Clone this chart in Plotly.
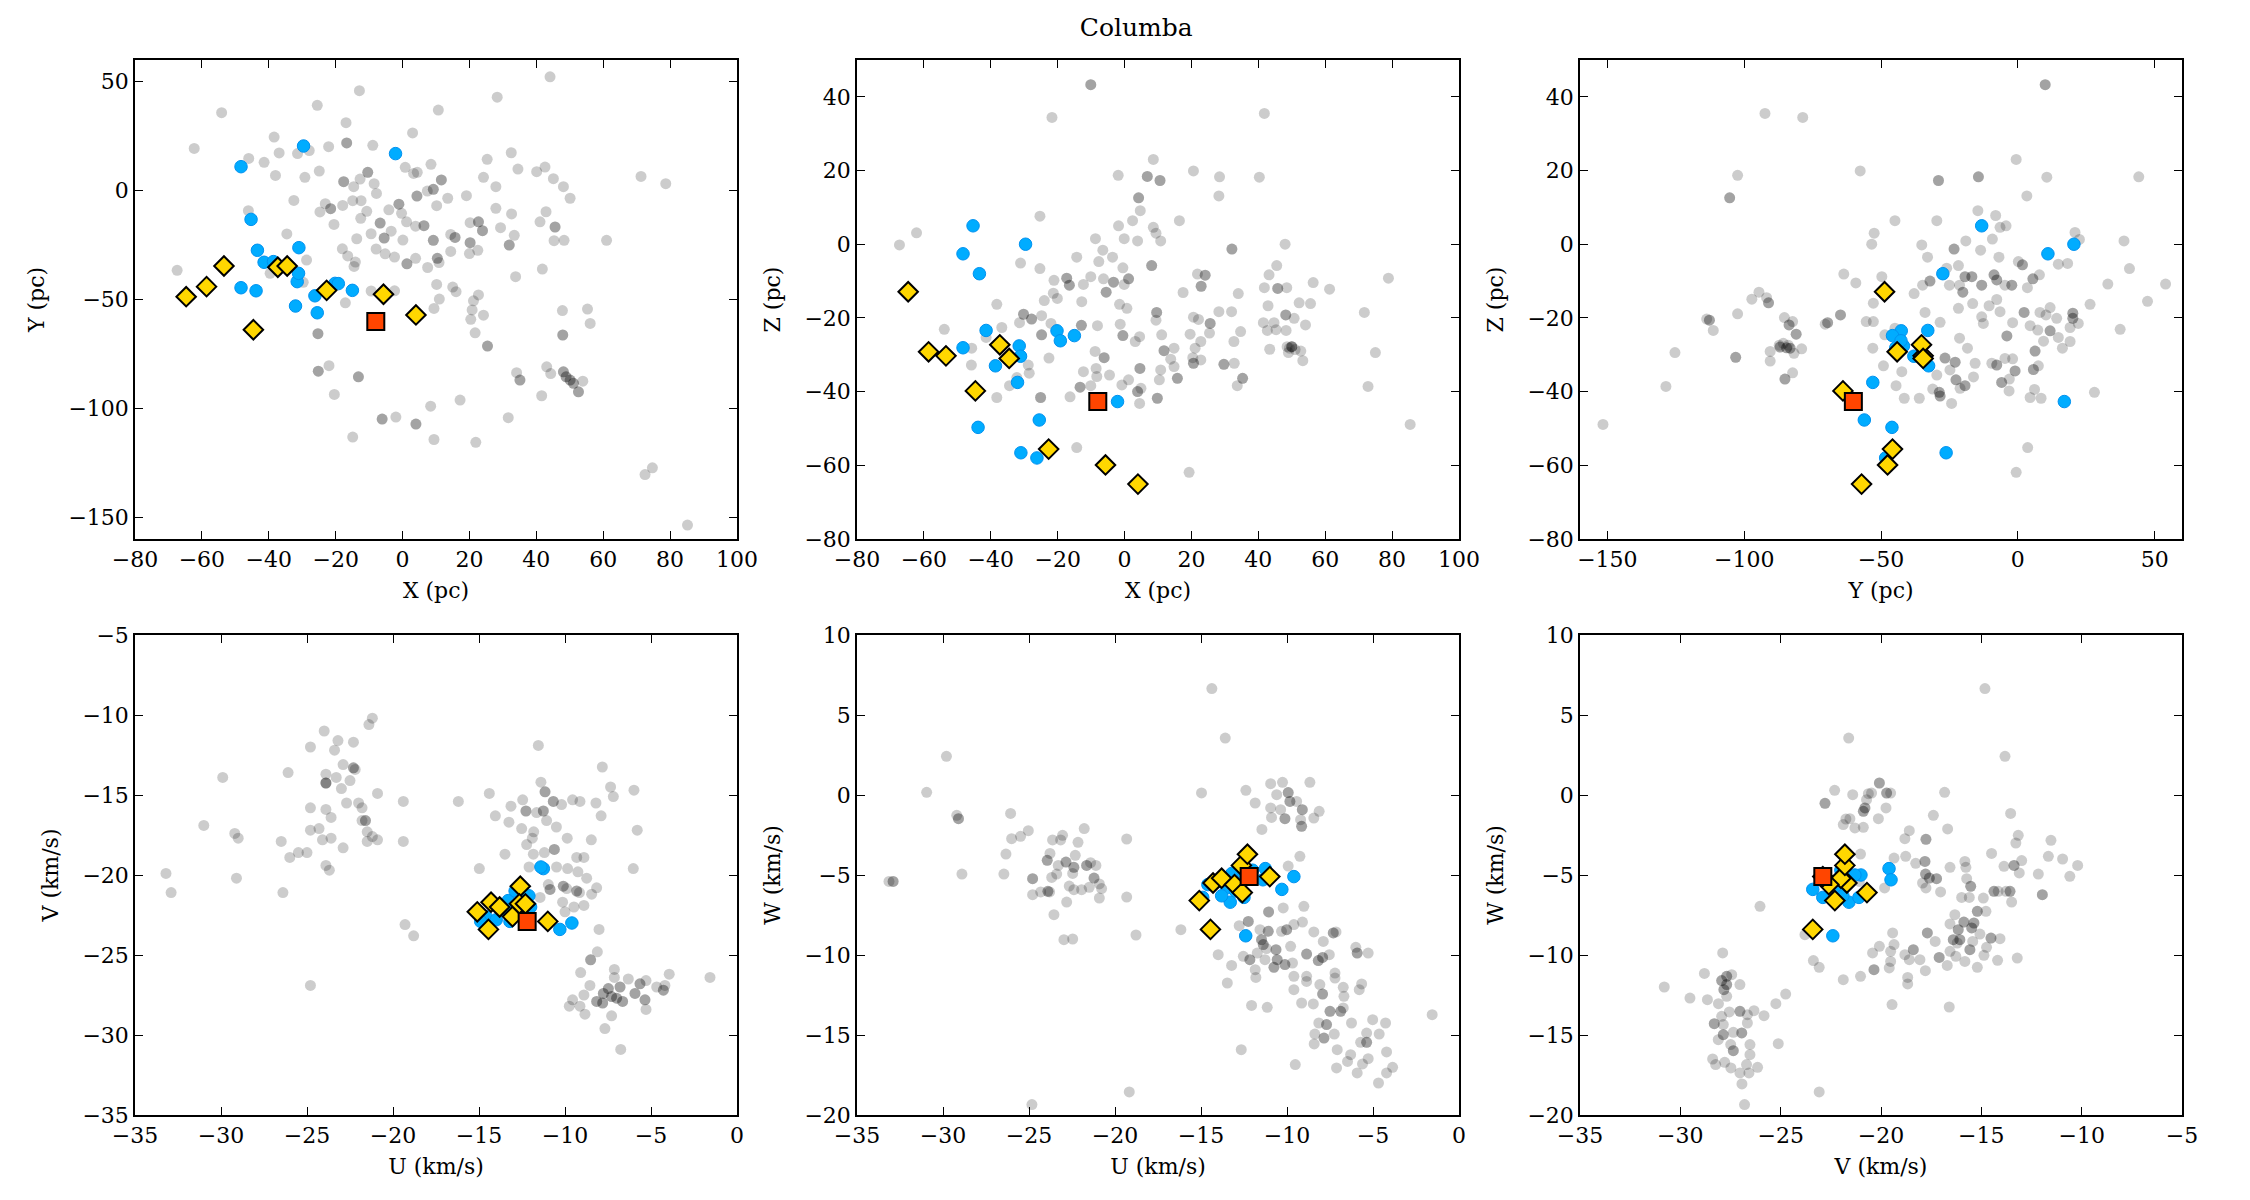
import plotly.graph_objects as go

# ---------------- highlighted stars ----------------
# yellow diamonds (candidate members)
yel_X = [-64.7, -58.6, -53.4, -44.6, -37.3, -34.5, -22.7, -5.7, 4.0]
yel_Y = [-48.7, -44.1, -34.6, -63.9, -35.2, -34.6, -45.8, -47.6, -57.1]
yel_Z = [-12.9, -29.2, -30.3, -39.8, -27.3, -31.0, -55.6, -59.9, -65.1]
yel_U = [-14.3, -13.8, -13.05, -14.45, -12.6, -12.65, -15.1, -12.3, -11.0]
yel_V = [-21.7, -22.0, -22.6, -23.4, -20.7, -21.8, -22.3, -21.8, -22.9]
yel_W = [-5.5, -5.2, -5.6, -8.4, -6.1, -4.4, -6.6, -3.7, -5.1]

# blue circles
blu_X = [-48.3, -29.6, -2.1, -45.3, -43.4, -20.2, -15.0, -41.4, -38.6, -32.0, -43.8, -31.0, -25.5, -48.3, -31.5, -31.1, -26.2, -19.2]
blu_Y = [11.0, 20.5, 17.0, -13.2, -27.4, -42.6, -45.8, -32.9, -32.6, -53.0, -46.0, -26.2, -56.1, -44.6, -41.8, -38.0, -48.3, -42.7]
blu_Z = [-2.6, 0.0, -42.7, 5.0, -8.0, -23.5, -24.8, -23.4, -33.0, -37.5, -49.7, -56.6, -47.7, -28.1, -27.6, -30.4, -58.0, -26.2]
blu_U = [-11.26, -9.6, -10.3, -12.4, -11.4, -13.3, -12.5, -14.6, -12.9, -12.1, -13.5, -13.0, -14.0, -12.7, -13.8, -12.0, -14.9, -13.2]
blu_V = [-19.6, -23.0, -23.4, -22.4, -19.5, -21.6, -21.1, -22.6, -21.0, -21.3, -22.2, -22.0, -22.8, -22.5, -21.9, -22.0, -22.9, -22.9]
blu_W = [-4.6, -5.1, -5.9, -8.8, -5.3, -6.7, -6.4, -5.6, -5.0, -5.0, -5.8, -6.0, -5.4, -5.5, -6.3, -4.7, -6.4, -4.9]

# red square (reference star)
red_X = [-8.0]
red_Y = [-60.1]
red_Z = [-42.7]
red_U = [-12.2]
red_V = [-22.9]
red_W = [-5.1]

# ---------------- field stars (grey), per panel ----------------
gray_XY = [
    (-12.9, 45.9), (-25.5, 39.2), (-54.1, 35.8), (-16.9, 31.2), (3.0, 26.5), (-38.4, 24.6), (-62.3, 19.4),
    (-36.9, 17.3), (-31.4, 17.0), (-27.9, 18.4), (-22.1, 20.2), (-16.7, 21.9), (-16.7, 21.9), (-8.9, 20.8),
    (-46.0, 14.8), (-41.4, 13.0), (0.8, 10.7), (8.5, 12.1), (-38.0, 7.0), (-29.2, 6.1), (-24.9, 9.0),
    (-10.4, 8.4), (-10.4, 8.4), (-17.6, 4.1), (-17.6, 4.1), (-14.6, 1.8), (-12.7, 5.3), (-8.5, 3.2),
    (-7.8, -1.3), (4.4, 8.4), (4.3, -2.5), (4.3, -2.5), (3.3, 7.9), (7.4, -0.2), (-32.5, -4.5),
    (-46.1, -9.2), (-24.7, -9.8), (-21.5, -8.3), (-21.5, -8.3), (-23.1, -6.0), (-17.9, -6.8), (-14.9, -4.6),
    (-12.4, -4.6), (-10.7, -9.5), (-4.1, -8.8), (-1.1, -6.2), (-1.1, -6.2), (-0.3, -10.4), (1.2, -14.3),
    (-20.5, -15.5), (-12.5, -12.7), (-6.7, -14.9), (-6.7, -14.9), (-9.4, -19.8), (-3.4, -18.6),
    (-5.5, -21.8), (-5.5, -21.8), (0.1, -22.7), (6.4, -16.1), (6.4, -16.1), (3.9, -16.3), (-13.7, -22.1),
    (-7.9, -26.8), (-5.2, -29.0), (-2.4, -30.5), (-18.0, -26.7), (-16.4, -30.0), (-14.1, -32.8),
    (-14.5, -34.8), (1.3, -33.6), (1.3, -33.6), (3.9, -31.1), (7.5, -35.3), (-34.6, -19.9), (-28.7, -31.9),
    (-67.4, -36.6), (-39.6, -38.0), (-29.7, -42.1), (-9.4, -46.1), (-2.4, -46.0), (-17.1, -51.5),
    (-25.3, -65.7), (-25.3, -65.7), (-25.2, -82.9), (-25.2, -82.9), (-22.0, -80.4), (-13.2, -85.5),
    (-13.2, -85.5), (-20.4, -93.6), (-6.1, -104.9), (-6.1, -104.9), (-2.0, -104.0), (4.0, -107.2),
    (4.0, -107.2), (8.4, -99.0), (-14.9, -113.2),
    (44.1, 52.3), (28.3, 42.9), (10.7, 37.0), (32.5, 17.4), (25.3, 14.4), (34.5, 9.9), (40.1, 8.7),
    (42.6, 10.8), (24.2, 6.1), (27.9, 1.8), (45.1, 5.5), (48.1, 1.8), (50.1, -3.5), (71.3, 6.5), (78.7, 3.2),
    (11.6, 4.9), (11.6, 4.9), (9.2, 0.6), (9.2, 0.6), (13.5, -3.5), (19.1, -2.3), (10.2, -6.9), (27.9, -8.1),
    (32.6, -10.7), (42.9, -9.7), (41.1, -14.3), (45.6, -16.7), (45.6, -16.7), (45.3, -23.0), (48.3, -22.8),
    (61.0, -22.8), (20.2, -14.7), (22.7, -14.3), (22.7, -14.3), (23.9, -18.4), (23.9, -18.4), (29.3, -17.0),
    (33.4, -20.5), (31.9, -25.0), (31.9, -25.0), (14.4, -20.1), (15.7, -21.5), (15.7, -21.5), (9.2, -22.8),
    (9.2, -22.8), (20.2, -23.9), (20.2, -23.9), (20.0, -28.9), (22.5, -27.4), (14.4, -27.9), (10.4, -31.1),
    (10.4, -31.1), (10.9, -33.0), (41.8, -36.0), (33.8, -39.5), (10.2, -43.1), (15.0, -44.3), (16.0, -46.4),
    (11.0, -49.8), (9.4, -54.1), (22.7, -47.9), (21.2, -50.6), (20.8, -54.8), (20.4, -59.1), (24.2, -57.2),
    (21.7, -65.3), (25.4, -71.4), (25.4, -71.4), (47.8, -55.1), (55.3, -54.4), (56.1, -61.0), (47.9, -66.3),
    (47.9, -66.3), (43.1, -80.9), (44.3, -84.0), (34.1, -83.6), (35.1, -87.0), (35.1, -87.0), (48.1, -83.2),
    (48.1, -83.2), (48.9, -85.5), (48.9, -85.5), (50.1, -87.0), (50.1, -87.0), (51.1, -88.5), (51.1, -88.5),
    (52.6, -92.4), (52.6, -92.4), (53.9, -87.5), (41.6, -94.2), (17.2, -96.2), (31.6, -104.3), (9.4, -114.3),
    (21.9, -115.6), (72.5, -130.4), (74.7, -127.3), (85.2, -153.6),
]

gray_XZ = [
    (-10.1, 43.3), (-10.1, 43.3), (-21.7, 34.4), (-1.9, 18.7), (6.8, 18.4), (6.8, 18.4), (4.2, 12.6),
    (4.2, 12.6), (4.7, 9.1), (2.4, 6.4), (-1.8, 5.0), (-25.3, 7.6), (-62.2, 3.1), (-67.3, -0.2), (-8.7, 1.5),
    (-6.5, -1.6), (-0.1, 1.5), (3.9, 0.9), (-14.3, -3.5), (-7.7, -4.7), (-3.6, -3.5), (-31.1, -5.1),
    (-25.3, -6.6), (-21.1, -9.8), (-17.3, -9.2), (-17.3, -9.2), (-16.5, -11.1), (-16.5, -11.1),
    (-12.3, -10.9), (-10.1, -8.8), (-6.3, -9.4), (-3.3, -10.3), (-3.3, -10.3), (-0.5, -6.4), (1.2, -9.4),
    (1.2, -9.4), (-0.1, -10.9), (-21.3, -13.3), (-20.1, -14.7), (-5.5, -13.0), (-5.5, -13.0), (-24.0, -15.3),
    (-12.8, -15.6), (-38.2, -16.3), (-30.2, -19.0), (-30.2, -19.0), (-27.8, -20.3), (-27.8, -20.3),
    (-24.8, -19.4), (-31.4, -21.3), (-36.7, -22.6), (-41.4, -25.3), (-53.9, -23.1), (-45.7, -28.2),
    (-45.8, -32.8), (-22.0, -21.5), (-24.8, -24.6), (-24.8, -24.6), (-12.9, -22.0), (-12.9, -22.0),
    (-8.1, -22.1), (-1.3, -21.7), (-0.5, -24.8), (-0.5, -24.8), (0.7, -17.4), (-1.5, -16.3), (3.2, -26.4),
    (4.5, -25.1), (-8.8, -29.1), (-6.1, -30.8), (-6.1, -30.8), (-22.6, -30.9), (-28.8, -32.8), (-28.5, -35.0),
    (-32.2, -36.2), (-34.4, -38.4), (-12.3, -34.6), (-8.5, -33.7), (-8.3, -35.9), (-4.5, -35.5),
    (-13.3, -38.8), (-13.3, -38.8), (-10.1, -38.4), (1.2, -36.8), (-0.8, -38.2), (4.6, -33.7), (4.6, -33.7),
    (4.9, -39.1), (3.9, -40.0), (3.9, -40.0), (4.5, -43.2), (-25.1, -41.6), (-25.1, -41.6), (-38.2, -41.6),
    (-16.3, -41.4), (-14.3, -55.2),
    (41.8, 35.5), (8.6, 23.0), (20.6, 19.9), (28.4, 18.3), (40.3, 18.2), (28.2, 13.1), (10.6, 17.3),
    (10.6, 17.3), (16.4, 6.4), (8.6, 4.6), (9.4, 3.0), (10.8, 0.9), (32.1, -1.3), (32.1, -1.3), (48.0, 0.0),
    (45.5, -5.8), (78.9, -9.2), (8.1, -5.8), (8.1, -5.8), (21.8, -8.1), (24.1, -8.4), (24.1, -8.4),
    (22.9, -11.4), (22.9, -11.4), (17.5, -13.1), (34.0, -13.4), (43.2, -8.3), (41.8, -11.8), (45.8, -12.0),
    (45.8, -12.0), (48.5, -11.8), (56.4, -10.4), (61.3, -12.2), (42.9, -16.7), (52.2, -15.9), (55.6, -16.1),
    (48.2, -19.2), (48.2, -19.2), (50.7, -20.1), (41.5, -21.3), (44.7, -21.3), (42.7, -23.4), (45.3, -23.2),
    (48.3, -23.4), (54.1, -21.9), (50.0, -27.8), (50.0, -27.8), (50.0, -27.8), (48.6, -27.8), (49.3, -28.2),
    (51.0, -28.6), (49.0, -29.4), (52.7, -29.0), (53.3, -31.6), (43.4, -28.5), (71.7, -18.5), (75.0, -29.4),
    (72.8, -38.6), (85.4, -48.9), (9.6, -18.5), (9.6, -18.5), (9.4, -20.6), (11.1, -24.6), (11.8, -28.9),
    (11.8, -28.9), (14.8, -28.2), (19.6, -24.4), (20.6, -19.8), (22.1, -20.4), (25.6, -21.5), (25.6, -21.5),
    (25.4, -24.1), (22.8, -26.4), (21.1, -28.2), (20.4, -30.8), (20.6, -32.3), (20.6, -32.3), (22.8, -31.4),
    (13.8, -31.2), (14.8, -33.2), (15.8, -36.4), (15.8, -36.4), (10.8, -34.1), (10.4, -36.8), (9.8, -41.8),
    (9.8, -41.8), (32.0, -18.3), (34.7, -23.7), (32.7, -26.4), (29.7, -32.6), (29.7, -32.6), (32.8, -32.3),
    (35.3, -36.4), (35.3, -36.4), (33.7, -38.4), (28.2, -18.3), (19.3, -61.9),
]

gray_YZ = [
    (-92.4, 35.5), (-78.6, 34.4), (-57.6, 19.9), (-102.4, 18.7), (-105.3, 12.6), (-105.3, 12.6),
    (-63.6, -8.1), (-59.2, -10.5), (-94.6, -13.0), (-97.2, -14.9), (-91.8, -14.5), (-91.1, -15.9),
    (-91.1, -15.9), (-102.4, -18.9), (-113.7, -20.3), (-112.7, -20.6), (-112.7, -20.6), (-111.3, -23.4),
    (-85.3, -19.9), (-83.6, -21.9), (-83.6, -21.9), (-82.3, -21.0), (-81.0, -24.4), (-81.0, -24.4),
    (-70.4, -21.7), (-69.5, -21.3), (-69.5, -21.3), (-64.8, -19.2), (-64.8, -19.2), (-55.4, -21.0),
    (-125.3, -29.4), (-103.1, -30.7), (-103.1, -30.7), (-90.5, -29.1), (-90.5, -31.7), (-86.9, -27.9),
    (-86.9, -27.9), (-84.5, -28.1), (-84.5, -28.1), (-83.2, -28.2), (-83.2, -28.2), (-87.2, -27.4),
    (-85.7, -26.9), (-83.9, -27.4), (-79.0, -28.4), (-81.8, -29.6), (-82.3, -34.9), (-85.1, -36.6),
    (-85.1, -36.6), (-128.6, -38.6), (-151.6, -48.9),
    (10.0, 43.3), (10.0, 43.3), (-0.6, 23.0), (10.6, 18.2), (3.3, 13.1), (44.2, 18.3), (-29.0, 17.3),
    (-29.0, 17.3), (-14.4, 18.3), (-14.4, 18.3), (-52.5, 3.0), (-53.4, 0.0), (-44.9, 6.4), (-29.6, 6.4),
    (-14.6, 9.1), (-8.1, 7.8), (-6.5, 4.6), (-4.3, 5.0), (-9.3, 1.4), (-19.0, 0.9), (-35.1, -0.2),
    (-33.0, -3.5), (-23.3, -1.3), (-23.3, -1.3), (-13.6, -1.6), (-6.9, -3.5), (-21.7, -5.8), (20.9, 3.2),
    (22.5, 1.3), (38.8, 0.9), (40.8, -6.6), (54.0, -10.8), (47.4, -15.5), (32.9, -10.8), (26.4, -16.3),
    (37.4, -23.1), (14.8, -5.4), (18.2, -5.2), (7.9, -8.3), (5.5, -9.4), (5.5, -9.4), (1.7, -5.6), (1.7, -5.6),
    (0.2, -4.7), (3.5, -11.8), (-2.2, -11.1), (-2.2, -11.1), (-4.7, -11.1), (-8.7, -8.3), (-8.7, -8.3),
    (-7.7, -9.7), (-7.7, -9.7), (-13.2, -11.1), (-13.2, -11.1), (-16.8, -8.8), (-16.8, -8.8), (-19.3, -8.8),
    (-19.3, -8.8), (-20.1, -13.0), (-20.1, -13.0), (-21.3, -11.1), (-32.1, -10.0), (-32.1, -10.0),
    (-34.8, -11.1), (-37.9, -13.4), (-25.0, -11.1), (-21.7, -17.4), (-16.5, -16.1), (-10.5, -16.7),
    (-7.7, -15.0), (-6.5, -18.3), (-13.2, -19.7), (-12.6, -21.5), (-1.9, -21.3), (2.3, -18.5), (2.3, -18.5),
    (4.5, -22.1), (7.3, -23.3), (8.1, -18.5), (11.8, -17.2), (10.3, -19.2), (11.8, -23.5), (11.8, -23.5),
    (14.2, -20.1), (14.8, -25.3), (20.1, -18.7), (20.1, -18.7), (20.1, -20.1), (20.1, -20.1), (19.1, -22.6),
    (22.1, -21.5), (19.1, -26.4), (16.3, -28.2), (9.4, -26.3), (6.3, -29.0), (6.3, -29.0), (-4.0, -24.9),
    (-4.0, -24.9), (-4.7, -31.0), (-1.9, -31.1), (-1.0, -34.4), (-1.0, -34.4), (-3.1, -36.6), (-5.9, -37.5),
    (-5.9, -37.5), (-3.2, -39.8), (-9.5, -32.3), (-7.7, -32.8), (-7.7, -32.8), (5.7, -34.0), (5.7, -34.0),
    (7.5, -33.0), (6.1, -39.4), (4.5, -41.6), (8.5, -41.8), (28.0, -40.2), (3.6, -55.2), (-0.6, -61.9),
    (-18.4, -28.2), (-21.3, -25.5), (-15.6, -32.3), (-16.2, -36.0), (-19.3, -38.4), (-19.3, -38.4),
    (-21.1, -39.1), (-24.2, -43.2), (-28.4, -41.2), (-28.4, -41.2), (-31.1, -39.3), (-36.0, -41.8),
    (-41.5, -41.8), (-44.5, -38.4), (-42.4, -34.6), (-49.1, -33.0), (-26.6, -30.9), (-26.6, -30.9),
    (-22.9, -32.0), (-22.9, -32.0), (-24.8, -34.1), (-22.6, -36.8), (-22.6, -36.8), (-29.6, -35.5),
    (-28.7, -40.2), (-28.7, -40.2), (-52.8, -16.0), (-52.8, -21.0), (-49.7, -8.8), (-53.0, -28.2),
    (-48.6, -24.6), (-44.9, -22.8), (-28.4, -21.2), (-33.9, -18.5), (-26.0, -6.5),
]

gray_UV = [
    (-21.2, -10.2), (-21.4, -10.6), (-24.0, -11.0), (-23.2, -11.6), (-22.3, -11.7), (-24.8, -12.0),
    (-23.4, -12.2), (-26.1, -13.6), (-29.9, -13.9), (-22.9, -13.1), (-22.3, -13.3), (-22.3, -13.3),
    (-22.2, -13.4), (-23.9, -13.7), (-23.9, -14.25), (-23.9, -14.25), (-23.9, -14.25), (-23.3, -13.9),
    (-22.5, -14.1), (-23.0, -14.6), (-20.9, -14.9), (-19.4, -15.4), (-24.8, -15.8), (-23.9, -15.9),
    (-23.6, -16.4), (-22.7, -15.5), (-22.0, -15.5), (-21.8, -15.8), (-31.0, -16.9), (-21.8, -16.6),
    (-21.6, -16.6), (-21.6, -16.6), (-24.8, -17.2), (-24.3, -17.1), (-29.2, -17.4), (-29.0, -17.7),
    (-21.5, -17.3), (-21.2, -17.6), (-20.9, -17.8), (-21.5, -17.9), (-19.4, -17.9), (-26.5, -17.9),
    (-24.1, -17.8), (-23.6, -17.7), (-22.9, -18.3), (-26.0, -18.9), (-25.5, -18.6), (-25.0, -18.6),
    (-23.9, -19.4), (-23.7, -19.7), (-33.2, -19.9), (-29.1, -20.2), (-32.9, -21.1), (-26.4, -21.1),
    (-19.3, -23.1), (-18.8, -23.8), (-24.8, -26.9),
    (-11.55, -11.9), (-7.83, -13.25), (-16.2, -15.4), (-14.4, -14.9), (-14.05, -16.3), (-13.14, -15.7),
    (-12.46, -15.3), (-12.27, -16.0), (-12.27, -16.0), (-13.26, -16.7), (-12.52, -17.1), (-11.4, -14.2),
    (-11.16, -14.8), (-11.16, -14.8), (-10.68, -15.4), (-10.68, -15.4), (-11.26, -16.0), (-11.26, -16.0),
    (-11.65, -16.1), (-11.07, -16.6), (-10.2, -15.6), (-9.56, -15.3), (-9.13, -15.4), (-8.2, -15.5),
    (-7.9, -16.3), (-7.35, -14.5), (-7.19, -15.1), (-5.99, -14.7), (-5.8, -17.2), (-10.5, -17.0),
    (-9.87, -17.7), (-8.47, -17.8), (-11.82, -17.3), (-12.23, -18.1), (-11.9, -17.7), (-13.49, -18.7),
    (-11.84, -18.7), (-11.2, -18.6), (-10.62, -18.4), (-10.62, -18.4), (-9.32, -18.9), (-8.9, -18.9),
    (-14.98, -19.6), (-12.09, -19.5), (-10.49, -19.5), (-9.85, -19.6), (-9.25, -19.8), (-8.74, -20.2),
    (-8.16, -20.8), (-8.45, -21.2), (-8.9, -21.9), (-6.03, -19.6), (-10.1, -20.7), (-10.1, -20.7),
    (-9.9, -20.85), (-10.87, -20.9), (-10.87, -20.9), (-10.97, -20.6), (-9.32, -21.0), (-9.32, -21.0),
    (-9.16, -21.1), (-10.14, -21.7), (-10.0, -22.3), (-9.48, -22.0), (-11.45, -21.4), (-8.02, -23.4),
    (-8.12, -24.8), (-8.51, -25.3), (-8.51, -25.3), (-9.09, -26.1), (-7.13, -25.9), (-7.13, -26.4),
    (-8.55, -26.9), (-8.9, -27.5), (-9.56, -27.8), (-9.75, -28.2), (-9.13, -28.2), (-8.84, -28.7),
    (-8.16, -27.9), (-8.16, -27.9), (-7.81, -28.0), (-7.81, -28.0), (-7.48, -27.1), (-7.48, -27.1),
    (-7.29, -27.6), (-7.29, -27.6), (-7.0, -27.7), (-7.0, -27.7), (-6.65, -27.9), (-6.65, -27.9),
    (-6.32, -26.5), (-6.8, -27.0), (-6.8, -27.0), (-5.64, -26.8), (-5.64, -26.8), (-5.93, -27.4),
    (-5.93, -27.4), (-5.35, -27.8), (-5.35, -27.8), (-5.29, -28.4), (-5.29, -26.6), (-4.67, -27.0),
    (-4.28, -27.2), (-4.28, -27.2), (-4.19, -26.9), (-3.94, -26.2), (-7.29, -28.8), (-7.68, -29.6),
    (-6.76, -30.9), (-1.57, -26.4), (-7.77, -27.4), (-7.77, -27.4),
]

gray_UW = [
    (-29.8, 2.42), (-30.95, 0.17), (-29.2, -1.27), (-29.1, -1.48), (-29.1, -1.48), (-26.07, -1.15),
    (-26.01, -2.73), (-25.49, -2.58), (-25.04, -2.23), (-26.34, -3.69), (-28.9, -4.94), (-26.46, -4.94),
    (-33.14, -5.4), (-32.9, -5.4), (-32.9, -5.4), (-23.63, -2.81), (-23.16, -2.81), (-23.05, -2.52),
    (-22.15, -2.96), (-21.79, -2.1), (-23.78, -3.65), (-23.94, -4.08), (-23.94, -4.08), (-23.3, -4.4),
    (-22.85, -4.19), (-22.85, -4.19), (-22.31, -3.77), (-22.39, -4.52), (-22.39, -4.52), (-22.46, -4.9),
    (-23.39, -4.94), (-23.68, -5.15), (-24.79, -5.23), (-24.79, -5.23), (-24.79, -6.23), (-24.32, -6.06),
    (-23.9, -6.02), (-23.9, -6.02), (-23.8, -6.06), (-22.66, -5.69), (-22.39, -5.92), (-21.94, -5.92),
    (-21.5, -5.77), (-21.65, -4.4), (-21.65, -4.4), (-21.42, -4.23), (-21.11, -4.4), (-21.22, -5.19),
    (-21.22, -5.19), (-20.91, -5.56), (-20.78, -5.85), (-20.91, -6.44), (-22.81, -6.69), (-23.55, -7.48),
    (-22.97, -9.04), (-22.46, -9.0), (-19.32, -2.75), (-19.32, -6.38), (-18.78, -8.75), (-19.17, -18.56),
    (-24.83, -19.35),
    (-14.37, 6.65), (-13.59, 3.56), (-14.97, 0.13), (-12.39, 0.29), (-11.85, -0.5), (-10.95, 0.71),
    (-10.26, 0.79), (-8.67, 0.79), (-10.6, 0.02), (-9.93, 0.15), (-9.93, 0.15), (-9.83, -0.4), (-9.83, -0.4),
    (-9.44, -0.4), (-9.11, -0.92), (-9.11, -0.92), (-10.95, -0.81), (-10.37, -0.92), (-10.9, -1.4),
    (-10.12, -1.48), (-10.12, -1.48), (-9.21, -1.54), (-9.15, -1.96), (-9.15, -1.96), (-8.44, -1.44),
    (-8.13, -1.02), (-11.46, -2.15), (-9.25, -3.83), (-9.93, -4.44), (-9.02, -6.96), (-10.22, -7.06),
    (-11.07, -7.31), (-11.07, -7.31), (-12.25, -7.9), (-12.25, -7.9), (-12.78, -8.17), (-16.17, -8.42),
    (-11.57, -8.42), (-11.09, -8.52), (-11.09, -8.52), (-10.32, -8.52), (-10.02, -8.42), (-10.02, -8.42),
    (-9.6, -8.1), (-9.1, -7.94), (-8.44, -8.56), (-7.89, -9.15), (-7.31, -8.62), (-7.31, -8.62),
    (-7.15, -8.56), (-6.0, -9.52), (-5.92, -9.88), (-5.92, -9.88), (-5.28, -9.88), (-11.48, -9.04),
    (-11.48, -9.04), (-11.38, -9.35), (-11.38, -9.35), (-10.64, -9.67), (-10.64, -9.67), (-11.19, -9.6),
    (-11.73, -9.88), (-10.57, -10.29), (-10.57, -10.29), (-9.79, -9.46), (-10.12, -10.6), (-10.12, -10.6),
    (-9.68, -10.5), (-10.76, -10.77), (-10.76, -10.77), (-11.28, -10.29), (-12.16, -10.29),
    (-12.16, -10.29), (-12.54, -10.08), (-14.0, -9.98), (-13.22, -10.65), (-13.47, -11.75), (-11.85, -10.92),
    (-11.81, -11.4), (-9.6, -11.33), (-8.86, -9.94), (-8.86, -9.94), (-8.18, -10.35), (-8.18, -10.35),
    (-7.93, -10.15), (-7.93, -10.15), (-7.54, -9.98), (-8.86, -11.33), (-9.6, -12.17), (-8.86, -11.65),
    (-8.09, -11.85), (-7.93, -12.44), (-7.93, -12.44), (-7.21, -11.13), (-7.21, -11.44), (-6.73, -12.02),
    (-6.69, -12.58), (-5.8, -12.17), (-5.66, -11.81), (-9.15, -13.0), (-8.47, -13.06), (-7.5, -13.52),
    (-7.5, -13.52), (-6.88, -13.52), (-6.88, -13.52), (-6.73, -13.31), (-6.25, -14.25), (-5.02, -14.04),
    (-4.27, -14.25), (-8.15, -14.25), (-7.7, -14.35), (-7.7, -14.35), (-8.38, -14.94), (-7.85, -15.19),
    (-7.85, -15.19), (-7.25, -14.94), (-8.42, -15.56), (-5.37, -14.88), (-5.37, -15.46), (-5.37, -15.46),
    (-5.72, -15.46), (-4.64, -14.94), (-7.08, -15.92), (-6.3, -16.23), (-6.48, -16.65), (-7.12, -17.06),
    (-5.92, -17.37), (-5.61, -16.81), (-5.28, -16.48), (-4.21, -16.06), (-4.21, -17.37), (-3.86, -17.02),
    (-4.68, -18.0), (-9.52, -16.85), (-12.06, -13.15), (-11.15, -13.27), (-12.66, -15.92), (-1.56, -13.73),
]

gray_VW = [
    (-21.61, 3.56), (-22.31, 0.29), (-21.41, 0.02), (-22.79, -0.52), (-22.79, -0.52), (-20.8, -0.81),
    (-20.8, -0.81), (-20.88, -1.02), (-20.88, -1.02), (-20.72, -0.29), (-20.63, 0.08), (-21.75, -1.5),
    (-21.55, -1.48), (-21.88, -1.85), (-21.3, -2.06), (-20.88, -2.02), (-21.02, -3.69), (-26.03, -6.96),
    (-23.79, -8.73), (-21.08, -5.4), (-27.89, -9.87), (-28.8, -11.15), (-30.8, -12.0), (-29.52, -12.69),
    (-28.65, -12.79), (-28.1, -13.04), (-27.69, -11.33), (-27.69, -11.33), (-27.44, -11.23),
    (-27.94, -11.6), (-27.94, -11.6), (-27.69, -11.85), (-27.69, -11.85), (-27.03, -11.85),
    (-27.83, -12.17), (-27.83, -12.17), (-27.69, -12.58), (-27.03, -13.52), (-27.03, -13.52),
    (-26.33, -13.48), (-26.66, -13.73), (-25.83, -13.79), (-25.24, -13.04), (-24.75, -12.44),
    (-27.56, -13.56), (-27.94, -13.83), (-28.31, -14.29), (-28.31, -14.29), (-27.86, -14.35),
    (-27.86, -14.98), (-27.86, -14.98), (-28.11, -15.29), (-27.36, -14.83), (-26.94, -14.87),
    (-26.94, -14.87), (-26.66, -14.25), (-26.53, -15.6), (-27.36, -15.98), (-27.36, -15.98), (-27.49, -15.6),
    (-26.53, -16.23), (-25.12, -15.54), (-28.39, -16.5), (-28.24, -16.85), (-27.79, -16.71), (-27.48, -17.06),
    (-27.03, -17.37), (-26.7, -16.85), (-26.58, -17.37), (-26.15, -17.02), (-26.93, -18.06), (-26.8, -19.35),
    (-23.08, -18.56), (-23.37, -10.35), (-23.08, -10.77), (-21.88, -11.54), (-21.02, -11.33),
    (-14.82, 6.65), (-13.82, 2.42), (-20.08, 0.75), (-20.08, 0.75), (-20.47, 0.12), (-19.72, 0.12),
    (-19.72, 0.12), (-19.52, 0.12), (-19.75, -0.81), (-20.13, -1.48), (-16.83, 0.17), (-17.39, -1.27),
    (-16.68, -2.12), (-13.54, -1.15), (-13.16, -2.52), (-13.28, -3.0), (-11.53, -2.83), (-11.66, -3.83),
    (-10.95, -4.0), (-10.2, -4.4), (-10.59, -5.08), (-12.16, -4.94), (-11.96, -6.23), (-11.96, -6.23),
    (-18.59, -2.23), (-18.81, -2.73), (-17.76, -2.77), (-17.76, -2.77), (-19.35, -3.94), (-18.77, -3.83),
    (-18.27, -4.27), (-17.81, -4.15), (-17.81, -4.15), (-17.78, -4.94), (-17.78, -4.94), (-17.59, -5.19),
    (-17.59, -5.19), (-17.23, -5.23), (-17.23, -5.23), (-17.76, -5.81), (-17.03, -6.06), (-17.93, -5.5),
    (-16.56, -4.52), (-15.82, -4.15), (-15.77, -4.52), (-15.73, -5.23), (-15.53, -5.71), (-15.53, -5.71),
    (-15.98, -6.4), (-15.6, -6.4), (-14.9, -6.44), (-14.49, -3.65), (-14.37, -6.02), (-14.37, -6.02),
    (-14.16, -6.02), (-13.87, -4.46), (-13.57, -6.02), (-13.57, -6.02), (-13.49, -6.69), (-13.37, -4.4),
    (-13.37, -4.4), (-12.99, -4.1), (-13.11, -4.87), (-19.82, -5.81), (-15.2, -7.27), (-15.2, -7.27),
    (-14.77, -7.27), (-16.32, -7.48), (-16.56, -8.06), (-15.87, -7.94), (-15.87, -7.94), (-15.48, -8.31),
    (-15.48, -8.31), (-16.15, -8.42), (-16.15, -8.42), (-15.37, -8.0), (-15.37, -8.0), (-16.4, -9.04),
    (-16.4, -9.04), (-16.07, -9.04), (-16.07, -9.04), (-16.2, -9.25), (-15.07, -8.69), (-15.43, -9.15),
    (-14.52, -8.94), (-14.52, -8.94), (-14.07, -8.98), (-14.74, -9.52), (-14.87, -10.02), (-15.57, -9.67),
    (-15.57, -9.67), (-15.82, -10.4), (-15.2, -10.77), (-16.56, -9.77), (-16.27, -10.08), (-16.7, -10.65),
    (-17.1, -10.15), (-17.1, -10.15), (-17.3, -9.15), (-17.69, -8.62), (-17.69, -8.62), (-18.06, -10.29),
    (-18.39, -9.67), (-18.39, -9.67), (-18.59, -10.29), (-18.81, -9.98), (-18.67, -11.4), (-18.67, -11.81),
    (-17.79, -10.98), (-19.42, -8.62), (-19.35, -9.35), (-19.52, -9.77), (-19.52, -10.4), (-19.59, -10.81),
    (-20.08, -9.46), (-20.42, -9.87), (-20.35, -10.92), (-20.35, -10.92), (-19.45, -13.1), (-16.6, -13.25),
    (-14.19, -10.33), (-13.21, -10.19), (-13.77, -6.02),
]

# ---------------- layout helpers ----------------
FONT = "DejaVu Serif"
W, H = 2250, 1200
ML, MR, MT, MB = 135, 68, 60, 85
PW, PH = W - ML - MR, H - MT - MB
TICK_SIZE = 22
LABEL_SIZE = 22
TITLE_SIZE = 25


def xdom(x0, x1):
    return [(x0 - ML) / PW, (x1 - ML) / PW]


def ydom(y_top, y_bot):
    return [(H - MB - y_bot) / PH, (H - MB - y_top) / PH]


panels = [
    (gray_XY, (blu_X, blu_Y), (yel_X, yel_Y), (red_X, red_Y), [-80, 100], [-160, 60],
     list(range(-80, 101, 20)), [-150, -100, -50, 0, 50], "X (pc)", "Y (pc)", xdom(135, 737), ydom(60, 539)),
    (gray_XZ, (blu_X, blu_Z), (yel_X, yel_Z), (red_X, red_Z), [-80, 100], [-80, 50],
     list(range(-80, 101, 20)), list(range(-80, 41, 20)), "X (pc)", "Z (pc)", xdom(857, 1459), ydom(60, 539)),
    (gray_YZ, (blu_Y, blu_Z), (yel_Y, yel_Z), (red_Y, red_Z), [-160, 60], [-80, 50],
     [-150, -100, -50, 0, 50], list(range(-80, 41, 20)), "Y (pc)", "Z (pc)", xdom(1580, 2182), ydom(60, 539)),
    (gray_UV, (blu_U, blu_V), (yel_U, yel_V), (red_U, red_V), [-35, 0], [-35, -5],
     list(range(-35, 1, 5)), list(range(-35, -4, 5)), "U (km/s)", "V (km/s)", xdom(135, 737), ydom(635, 1115)),
    (gray_UW, (blu_U, blu_W), (yel_U, yel_W), (red_U, red_W), [-35, 0], [-20, 10],
     list(range(-35, 1, 5)), list(range(-20, 11, 5)), "U (km/s)", "W (km/s)", xdom(857, 1459), ydom(635, 1115)),
    (gray_VW, (blu_V, blu_W), (yel_V, yel_W), (red_V, red_W), [-35, -5], [-20, 10],
     list(range(-35, -4, 5)), list(range(-20, 11, 5)), "V (km/s)", "W (km/s)", xdom(1580, 2182), ydom(635, 1115)),
]

fig = go.Figure()
layout = dict(
    width=W, height=H,
    margin=dict(l=ML, r=MR, t=MT, b=MB),
    paper_bgcolor="white", plot_bgcolor="white",
    showlegend=False,
    font=dict(family=FONT, size=TICK_SIZE, color="black"),
    title=dict(text="Columba", x=0.505, xanchor="center", y=1 - 27 / H, yanchor="middle",
               font=dict(family=FONT, size=TITLE_SIZE, color="black")),
)

for i, (gp, bl, yl, rd, xr, yr, xt, yt, xtitle, ytitle, xd, yd) in enumerate(panels):
    n = "" if i == 0 else str(i + 1)
    xa, ya = "x" + n, "y" + n
    gx = [p[0] for p in gp]
    gy = [p[1] for p in gp]
    fig.add_trace(go.Scatter(x=gx, y=gy, mode="markers", xaxis=xa, yaxis=ya, hoverinfo="skip",
                             marker=dict(size=11, color="rgba(0,0,0,0.2)", line=dict(width=0))))
    fig.add_trace(go.Scatter(x=bl[0], y=bl[1], mode="markers", xaxis=xa, yaxis=ya,
                             marker=dict(size=12.5, color="rgb(0,172,255)",
                                         line=dict(width=1, color="rgb(0,145,240)"))))
    fig.add_trace(go.Scatter(x=yl[0], y=yl[1], mode="markers", xaxis=xa, yaxis=ya,
                             marker=dict(symbol="diamond", size=15, color="#FFD700",
                                         line=dict(width=2, color="black"))))
    fig.add_trace(go.Scatter(x=rd[0], y=rd[1], mode="markers", xaxis=xa, yaxis=ya,
                             marker=dict(symbol="square", size=17, color="#FF4500",
                                         line=dict(width=2, color="black"))))
    common = dict(showline=True, linecolor="black", linewidth=1.5, mirror="ticks",
                  ticks="inside", ticklen=8, tickwidth=1, tickcolor="black",
                  showgrid=False, zeroline=False,
                  tickfont=dict(family=FONT, size=TICK_SIZE, color="black"))
    layout["xaxis" + n] = dict(domain=xd, range=xr, tickvals=xt, anchor=ya,
                               title=dict(text=xtitle, font=dict(family=FONT, size=LABEL_SIZE), standoff=11),
                               **common)
    layout["yaxis" + n] = dict(domain=yd, range=yr, tickvals=yt, anchor=xa,
                               title=dict(text=ytitle, font=dict(family=FONT, size=LABEL_SIZE), standoff=18),
                               **common)

fig.update_layout(**layout)
fig.write_html("out.html")
